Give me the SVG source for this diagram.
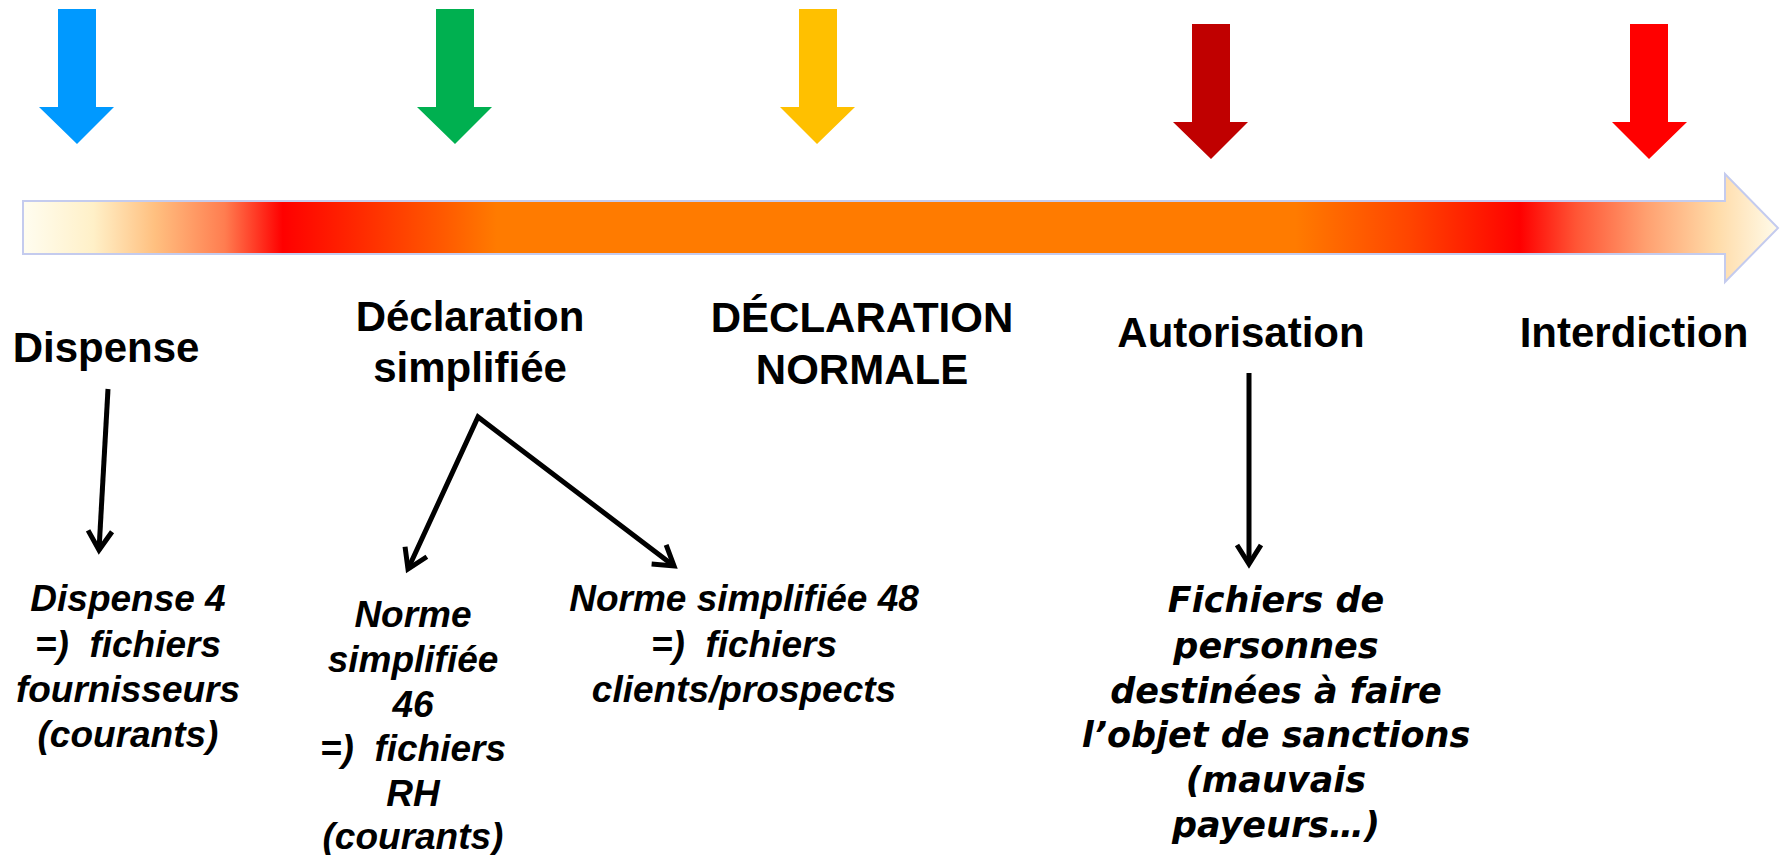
<svg xmlns="http://www.w3.org/2000/svg" width="1785" height="855" viewBox="0 0 1785 855">
<defs>
<linearGradient id="bar" gradientUnits="userSpaceOnUse" x1="23" y1="0" x2="1778" y2="0">
<stop offset="0" stop-color="#fffdf0"/>
<stop offset="0.04" stop-color="#fff0c8"/>
<stop offset="0.075" stop-color="#ffc080"/>
<stop offset="0.115" stop-color="#ff7d50"/>
<stop offset="0.148" stop-color="#ff0000"/>
<stop offset="0.19" stop-color="#ff2800"/>
<stop offset="0.24" stop-color="#ff5a00"/>
<stop offset="0.27" stop-color="#ff7b00"/>
<stop offset="0.725" stop-color="#ff7b00"/>
<stop offset="0.79" stop-color="#ff4500"/>
<stop offset="0.853" stop-color="#ff0000"/>
<stop offset="0.885" stop-color="#ff5535"/>
<stop offset="0.925" stop-color="#ffa070"/>
<stop offset="0.965" stop-color="#ffdba8"/>
<stop offset="1" stop-color="#fffbea"/>
</linearGradient>
<marker id="open" markerUnits="userSpaceOnUse" markerWidth="40" markerHeight="40" viewBox="-25 -20 40 40" refX="0" refY="0" orient="auto-start-reverse">
<path d="M-19,-12 L0,0 L-19,12" fill="none" stroke="#000" stroke-width="5" stroke-linejoin="miter"/>
</marker>
<style>
.h{font-family:"Liberation Sans",Arial,sans-serif;font-weight:bold;font-size:42px;fill:#000;text-anchor:middle}
.i{font-family:"Liberation Sans",Arial,sans-serif;font-weight:bold;font-style:italic;font-size:37px;fill:#000;text-anchor:middle;white-space:pre}
.t{font-family:"DejaVu Sans",Verdana,sans-serif;font-weight:bold;font-style:italic;font-size:35px;fill:#000;text-anchor:middle}
.c{fill:none;stroke:#000;stroke-width:5;stroke-linejoin:miter;stroke-miterlimit:10;marker-end:url(#open)}
</style>
</defs>
<rect width="1785" height="855" fill="#fff"/>
<g id="timeline">
<path d="M23,201 L1725,201 L1725,174 L1778,228 L1725,282 L1725,254 L23,254 Z" fill="url(#bar)" stroke="#c4cbee" stroke-width="2"/>
</g>
<g id="markers">
<polygon points="58,9 96,9 96,107 114,107 77,144 39,107 58,107" fill="#0099ff"/>
<polygon points="436,9 474,9 474,107 492,107 455,144 417,107 436,107" fill="#00b050"/>
<polygon points="799,9 837,9 837,107 855,107 817,144 780,107 799,107" fill="#ffc000"/>
<polygon points="1192,24 1230,24 1230,122 1248,122 1211,159 1173,122 1192,122" fill="#c00000"/>
<polygon points="1630,24 1668,24 1668,122 1687,122 1649,159 1612,122 1630,122" fill="#ff0000"/>
</g>
<g id="dispense"><text class="h" x="106" y="362">Dispense</text></g>
<g id="declaration-simplifiee"><text class="h" x="470" y="331">Déclaration</text><text class="h" x="470" y="382">simplifiée</text></g>
<g id="declaration-normale"><text class="h" x="862" y="332">DÉCLARATION</text><text class="h" x="862" y="384">NORMALE</text></g>
<g id="autorisation"><text class="h" x="1241" y="347">Autorisation</text></g>
<g id="interdiction"><text class="h" x="1634" y="347">Interdiction</text></g>
<g id="dispense4">
<text class="i" x="128" y="611">Dispense 4</text>
<text class="i" x="128" y="657" xml:space="preserve">=)  fichiers</text>
<text class="i" x="128" y="702">fournisseurs</text>
<text class="i" x="128" y="747">(courants)</text>
</g>
<g id="norme46">
<text class="i" x="413" y="627">Norme</text>
<text class="i" x="413" y="672">simplifiée</text>
<text class="i" x="413" y="717">46</text>
<text class="i" x="413" y="761" xml:space="preserve">=)  fichiers</text>
<text class="i" x="413" y="806">RH</text>
<text class="i" x="413" y="849">(courants)</text>
</g>
<g id="norme48">
<text class="i" x="744" y="611">Norme simplifiée 48</text>
<text class="i" x="744" y="657" xml:space="preserve">=)  fichiers</text>
<text class="i" x="744" y="702">clients/prospects</text>
</g>
<g id="fichiers-sanctions">
<text class="t" x="1276" y="612">Fichiers de</text>
<text class="t" x="1276" y="658">personnes</text>
<text class="t" x="1276" y="703">destinées à faire</text>
<text class="t" x="1276" y="747">l’objet de sanctions</text>
<text class="t" x="1276" y="792">(mauvais</text>
<text class="t" x="1276" y="837">payeurs…)</text>
</g>
<g id="connectors">
<line class="c" x1="108" y1="389" x2="99" y2="550"/>
<path class="c" d="M408,569 L478,417 L674,566" marker-start="url(#open)"/>
<line class="c" x1="1249" y1="373" x2="1249" y2="564"/>
</g>
</svg>
